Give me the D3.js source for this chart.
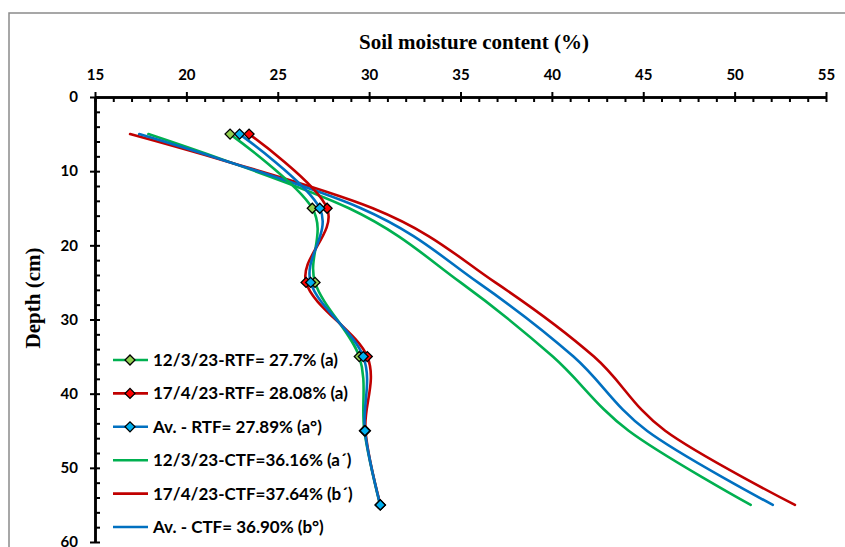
<!DOCTYPE html>
<html>
<head>
<meta charset="utf-8">
<script src="https://cdn.jsdelivr.net/npm/d3@7/dist/d3.min.js"></script>
<style>
  html, body { margin: 0; padding: 0; background: #fff; }
  svg { display: block; }
  .tick text { font-family: Lato, "Open Sans", sans-serif; font-weight: 700; font-size: 15px; fill: #000; }
</style>
</head>
<body>
<svg id="chart" width="845" height="547"></svg>
<script>
// ---- data ----
const depths = [5, 15, 25, 35, 45, 55];
const rtf_12_3 = [22.39, 26.89, 27.04, 29.46, 29.74, 30.60];
const rtf_17_4 = [23.43, 27.70, 26.55, 29.90, 29.80, 30.62];
const rtf_avg  = [22.91, 27.30, 26.80, 29.68, 29.77, 30.61];
const ctf_12_3 = [17.92, 28.90, 35.00, 40.05, 44.20, 50.88];
const ctf_17_4 = [16.92, 30.20, 36.90, 42.30, 46.20, 53.30];
const ctf_avg  = [17.42, 29.55, 35.95, 41.18, 45.20, 52.09];
const seriesNames = [
  "12/3/23-RTF= 27.7% (a)",
  "17/4/23-RTF= 28.08% (a)",
  "Av. - RTF= 27.89% (a\u00B0)",
  "12/3/23-CTF=36.16% (a\u00B4)",
  "17/4/23-CTF=37.64% (b\u00B4)",
  "Av. - CTF= 36.90% (b\u00B0)"
];
const xTicks = [15, 20, 25, 30, 35, 40, 45, 50, 55];
const yTicks = [0, 10, 20, 30, 40, 50, 60];
const xTitle = "Soil moisture content (%)";
const yTitle = "Depth (cm)";

const lineColors = ["#00B050", "#C00000", "#0070C0", "#00B050", "#C00000", "#0070C0"];
const markerFills = ["#92D050", "#FF0000", "#00B0F0", null, null, null];
const allValues = [rtf_12_3, rtf_17_4, rtf_avg, ctf_12_3, ctf_17_4, ctf_avg];
const series = allValues.map((vals, i) => ({
  name: seriesNames[i], color: lineColors[i], marker: markerFills[i],
  points: vals.map((v, j) => ({ v, d: depths[j] }))
}));

const svg = d3.select("#chart");
const W = 845, H = 547;

// chart border
svg.append("rect").attr("x", 9).attr("y", 13).attr("width", 900).attr("height", 600)
  .attr("fill", "none").attr("stroke", "#8a8a8a").attr("stroke-width", 1.5);

const x = d3.scaleLinear().domain([15, 55]).range([95, 826]);
const y = d3.scaleLinear().domain([0, 60]).range([97, 542]);

// ---- axes ----
const xMinor = d3.range(15, 55.01, 1);
const yMinor = d3.range(0, 60.01, 2);

const gxMinor = svg.append("g").attr("transform", `translate(0,${y(0)})`)
  .call(d3.axisBottom(x).tickValues(xMinor).tickSize(5).tickSizeOuter(0).tickFormat(""));
const gx = svg.append("g").attr("transform", `translate(0,${y(0)})`)
  .call(d3.axisTop(x).tickValues(xTicks).tickSize(5).tickSizeOuter(0).tickPadding(12).tickFormat(d3.format("d")));

const gyMinor = svg.append("g").attr("transform", `translate(${x(15)},0)`)
  .call(d3.axisRight(y).tickValues(yMinor).tickSize(5).tickSizeOuter(0).tickFormat(""));
const gy = svg.append("g").attr("transform", `translate(${x(15)},0)`)
  .call(d3.axisLeft(y).tickValues(yTicks).tickSize(5).tickSizeOuter(0).tickPadding(12).tickFormat(d3.format("d")));

[gxMinor, gx, gyMinor, gy].forEach(g => {
  g.selectAll(".domain").attr("stroke", "#000").attr("stroke-width", 2.5);
  g.selectAll(".tick line").attr("stroke", "#000").attr("stroke-width", 2);
});

// titles
svg.append("text").attr("x", 474).attr("y", 49).attr("text-anchor", "middle")
  .attr("font-family", "'Liberation Serif', 'Times New Roman', serif").attr("font-weight", 700)
  .attr("font-size", 21).text(xTitle);
svg.append("text").attr("transform", "translate(40,298) rotate(-90)").attr("text-anchor", "middle")
  .attr("font-family", "'Liberation Serif', 'Times New Roman', serif").attr("font-weight", 700)
  .attr("font-size", 21).text(yTitle);

// ---- lines ----
const line = d3.line().x(p => x(p.v)).y(p => y(p.d)).curve(d3.curveCatmullRom.alpha(0));
const drawOrder = [3, 4, 5, 0, 1, 2];
drawOrder.forEach(i => {
  const s = series[i];
  svg.append("path").datum(s.points).attr("d", line)
    .attr("fill", "none").attr("stroke", s.color).attr("stroke-width", 2.6)
    .attr("stroke-linecap", "round").attr("stroke-linejoin", "round");
});
const diamond = d3.symbol(d3.symbolSquare, 50);
[0, 1, 2].forEach(i => {
  const s = series[i];
  svg.append("g").selectAll("path").data(s.points).join("path")
    .attr("d", diamond)
    .attr("transform", p => `translate(${x(p.v)},${y(p.d)}) rotate(45)`)
    .attr("fill", s.marker).attr("stroke", "#000").attr("stroke-width", 1.3);
});

// ---- legend ----
const legend = svg.append("g");
const ly0 = 360, lStep = 33.4;
series.forEach((s, i) => {
  const g = legend.append("g").attr("transform", `translate(0,${ly0 + i * lStep})`);
  g.append("line").attr("x1", 113).attr("x2", 148).attr("y1", 0).attr("y2", 0)
    .attr("stroke", s.color).attr("stroke-width", 2.6);
  if (s.marker) {
    g.append("path").attr("d", diamond).attr("transform", "translate(130,0) rotate(45)")
      .attr("fill", s.marker).attr("stroke", "#000").attr("stroke-width", 1.3);
  }
  g.append("text").attr("x", 153).attr("y", 0).attr("dy", "0.35em")
    .attr("font-family", "Lato, 'Open Sans', sans-serif").attr("font-weight", 700)
    .attr("font-size", 17).attr("fill", "#000").text(s.name);
});
</script>
</body>
</html>
